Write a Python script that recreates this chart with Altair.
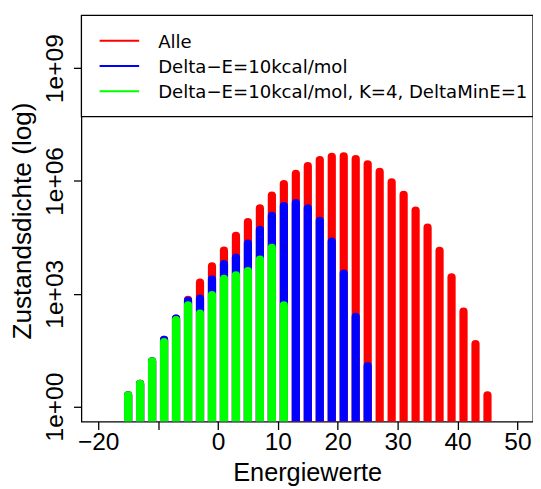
import altair as alt
import pandas as pd

# ---------------- data ----------------
energies_all = list(range(-15, 46, 2))
counts_all = [2, 4, 16, 59, 219, 690, 1980, 5340, 14000, 34600, 80500, 187000,
              410000, 830000, 1540000, 2500000, 3590000, 4350000, 4490000,
              3810000, 2770000, 1740000, 914000, 427000, 163000, 57100, 13800,
              2750, 334, 46, 2]

energies_de = list(range(-15, 26, 2))
counts_de = [2, 4, 16, 59, 219, 648, 740, 2410, 6100, 9190, 21400, 49700,
             118000, 215000, 258000, 187000, 87100, 24500, 3460, 243, 12]

energies_k4 = list(range(-15, 12, 2))
counts_k4 = [2, 4, 16, 51.5, 198, 488, 296, 914, 2480, 3100, 4030, 8150,
             16500, 488]

series_names = ["Alle", "Delta\u2212E=10kcal/mol",
                "Delta\u2212E=10kcal/mol, K=4, DeltaMinE=1"]
series_colors = ["#FF0000", "#0000FF", "#00FF00"]

x_ticks = [-20, -10, 0, 10, 20, 30, 40, 50]
x_tick_labels = ["\u221220", "", "0", "10", "20", "30", "40", "50"]
y_ticks = [1, 1e3, 1e6, 1e9]
y_tick_labels = ["1e+00", "1e+03", "1e+06", "1e+09"]

x_title = "Energiewerte"
y_title = "Zustandsdichte (log)"

# ---------------- build tables ----------------
frames = []
for name, xs, ys in zip(series_names,
                        [energies_all, energies_de, energies_k4],
                        [counts_all, counts_de, counts_k4]):
    frames.append(pd.DataFrame({"energy": xs, "count": ys, "series": name}))
df = pd.concat(frames, ignore_index=True)

legend_df = pd.DataFrame({"series": series_names})
box_df = pd.DataFrame({"k": [0]})


def label_expr(values, labels):
    expr = "''"
    for v, l in reversed(list(zip(values, labels))):
        expr = f"abs(datum.value - ({v})) < 1e-6 * max(1, abs({v})) ? '{l}' : {expr}"
    return expr


FONT = "Liberation Sans"
LEG_FONT = "DejaVu Sans"
W, H = 457, 411
LEG_H = 102.3

color_scale = alt.Scale(domain=series_names, range=series_colors)

bars = alt.Chart(df).mark_rule(strokeWidth=8.3, strokeCap="round", clip=True).encode(
    x=alt.X("energy:Q",
            scale=alt.Scale(domain=[-22.8, 52.6], nice=False, zero=False),
            axis=alt.Axis(values=x_ticks, labelExpr=label_expr(x_ticks, x_tick_labels),
                          title=x_title, grid=False, domain=False,
                          tickSize=8, tickWidth=1.3, tickColor="black",
                          labelFont=FONT, labelFontSize=24.8, labelColor="black",
                          labelBaseline="alphabetic", labelPadding=20.4,
                          labelFlush=False, labelOverlap=False,
                          titleFont=FONT, titleFontSize=25.6, titleFontWeight="normal",
                          titleColor="black", titleBaseline="alphabetic", titleY=60)),
    y=alt.Y("count:Q",
            scale=alt.Scale(type="log", domain=[10 ** -0.4, 10 ** 10.4], nice=False),
            axis=alt.Axis(values=y_ticks, labelExpr=label_expr(y_ticks, y_tick_labels),
                          title=y_title, grid=False, domain=False,
                          tickSize=8, tickWidth=1.3, tickColor="black",
                          labelFont=FONT, labelFontSize=24.8, labelColor="black",
                          labelAngle=270, labelAlign="center",
                          labelBaseline="alphabetic", labelPadding=11,
                          labelFlush=False, labelOverlap=False,
                          titleFont=FONT, titleFontSize=26.5, titleFontWeight="normal",
                          titleColor="black", titleAngle=270, titleAlign="center",
                          titleBaseline="alphabetic", titleX=-51.3, titleY=H / 2 + 2)),
    y2=alt.value(H),
    color=alt.Color("series:N", scale=color_scale, legend=None),
)

box = alt.Chart(box_df).mark_rect(fill="white", stroke="black", strokeWidth=1.3).encode(
    x=alt.value(0), x2=alt.value(W), y=alt.value(0), y2=alt.value(LEG_H)
)

row_scale = alt.Scale(type="point", domain=series_names, range=[25.6, 76.6], padding=0)

leg_lines = alt.Chart(legend_df).mark_rule(strokeWidth=2).encode(
    x=alt.value(18.4), x2=alt.value(58.4),
    y=alt.Y("series:N", scale=row_scale, axis=None),
    color=alt.Color("series:N", scale=color_scale, legend=None),
)

leg_text = alt.Chart(legend_df).mark_text(
    align="left", baseline="alphabetic", dy=7.4, font=LEG_FONT, fontSize=18.3, color="black"
).encode(
    x=alt.value(77.7),
    y=alt.Y("series:N", scale=row_scale, axis=None),
    text="series:N",
)

chart = alt.layer(bars, box, leg_lines, leg_text).resolve_scale(y="independent").properties(
    width=W, height=H,
    autosize=alt.AutoSizeParams(type="none"),
    padding={"left": 74.3, "top": 4.7, "right": 0, "bottom": 64},
    background="white",
).configure_view(stroke="black", strokeWidth=1.3)

chart.save("out.html", embed_options={"renderer": "svg", "actions": False})
